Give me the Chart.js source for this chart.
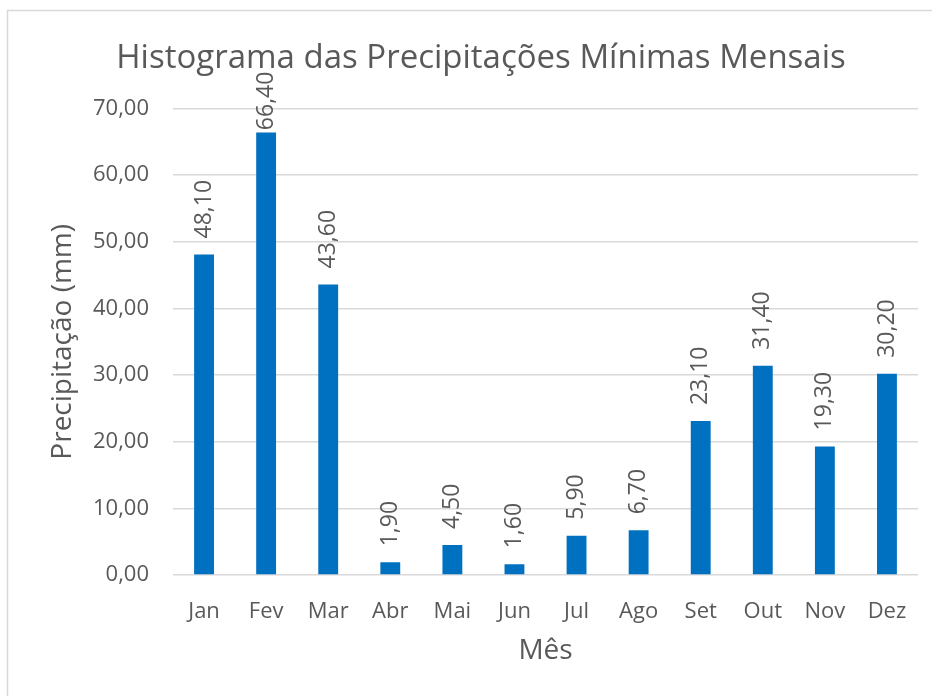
<!DOCTYPE html>
<html>
<head>
<meta charset="utf-8">
<title>Histograma das Precipitações Mínimas Mensais</title>
<script src="https://cdn.jsdelivr.net/npm/chart.js@4/dist/chart.umd.min.js"></script>
<style>
  html, body { margin: 0; padding: 0; background: #fff; }
  #wrap { width: 932px; height: 696px; }
</style>
</head>
<body>
<div id="wrap"><canvas id="chart" width="932" height="696"></canvas></div>
<script>
// Precipitação mínima mensal (mm)
const months = ['Jan', 'Fev', 'Mar', 'Abr', 'Mai', 'Jun', 'Jul', 'Ago', 'Set', 'Out', 'Nov', 'Dez'];
const minPrecip = [48.1, 66.4, 43.6, 1.9, 4.5, 1.6, 5.9, 6.7, 23.1, 31.4, 19.3, 30.2];
const yMin = 0;
const yMax = 70;
const yStep = 10;

const FONT = "'Open Sans', 'Noto Sans', sans-serif";
const TEXT = '#595959';
const GRID = '#d9d9d9';
const BAR = '#0070c0';

function fmt(v) { return Number(v).toFixed(2).replace('.', ','); }

// white background + outer frame like the Excel chart area
const framePlugin = {
    id: 'frame',
    beforeDraw(chart) {
        const ctx = chart.ctx;
        ctx.save();
        ctx.fillStyle = '#fff';
        ctx.fillRect(0, 0, chart.width, chart.height);
        ctx.strokeStyle = GRID;
        ctx.lineWidth = 1.5;
        ctx.strokeRect(7.5, 10.5, chart.width + 20, chart.height + 20);
        ctx.restore();
    }
};

// rotated value labels above each bar (kept below the title like Excel does)
const barLabels = {
    id: 'barLabels',
    afterDatasetsDraw(chart) {
        const ctx = chart.ctx;
        const meta = chart.getDatasetMeta(0);
        const minTop = chart.chartArea.top - 37;
        ctx.save();
        ctx.fillStyle = TEXT;
        ctx.font = `23px ${FONT}`;
        ctx.textAlign = 'left';
        ctx.textBaseline = 'middle';
        meta.data.forEach((bar, i) => {
            const txt = fmt(minPrecip[i]);
            const w = ctx.measureText(txt).width;
            let start = bar.y - 16;
            if (start - w < minTop) start = minTop + w;
            ctx.save();
            ctx.translate(bar.x, start);
            ctx.rotate(-Math.PI / 2);
            ctx.fillText(txt, 0, 0);
            ctx.restore();
        });
        ctx.restore();
    }
};

new Chart(document.getElementById('chart'), {
    type: 'bar',
    data: {
        labels: months,
        datasets: [{
            data: minPrecip,
            backgroundColor: BAR,
            borderWidth: 0,
            categoryPercentage: 1,
            barPercentage: 0.32
        }]
    },
    options: {
        responsive: false,
        animation: false,
        layout: { padding: { left: 44, right: 14, top: 21, bottom: 0 } },
        plugins: {
            legend: { display: false },
            tooltip: { enabled: false },
            title: {
                display: true,
                text: 'Histograma das Precipitações Mínimas Mensais',
                color: TEXT,
                font: { family: FONT, size: 33, weight: 'normal' },
                padding: { top: 18, bottom: 30 }
            }
        },
        scales: {
            x: {
                grid: { display: false },
                border: { display: false },
                ticks: { color: TEXT, font: { family: FONT, size: 22 }, padding: 16, maxRotation: 0 },
                title: {
                    display: true,
                    text: 'Mês',
                    color: TEXT,
                    font: { family: FONT, size: 28 },
                    padding: { top: 4, bottom: 28 }
                },
                afterFit(scale) { scale.height = 121; }
            },
            y: {
                min: yMin,
                max: yMax,
                grid: { color: GRID, lineWidth: 1.5, drawTicks: false },
                border: { display: false },
                ticks: {
                    stepSize: yStep,
                    color: TEXT,
                    font: { family: FONT, size: 22 },
                    padding: 24,
                    callback: v => fmt(v)
                },
                title: {
                    display: true,
                    text: 'Precipitação (mm)',
                    color: TEXT,
                    font: { family: FONT, size: 28 },
                    padding: { top: 2, bottom: 4 }
                },
                afterFit(scale) { scale.width = 129; }
            }
        }
    },
    plugins: [framePlugin, barLabels]
});
</script>
</body>
</html>
